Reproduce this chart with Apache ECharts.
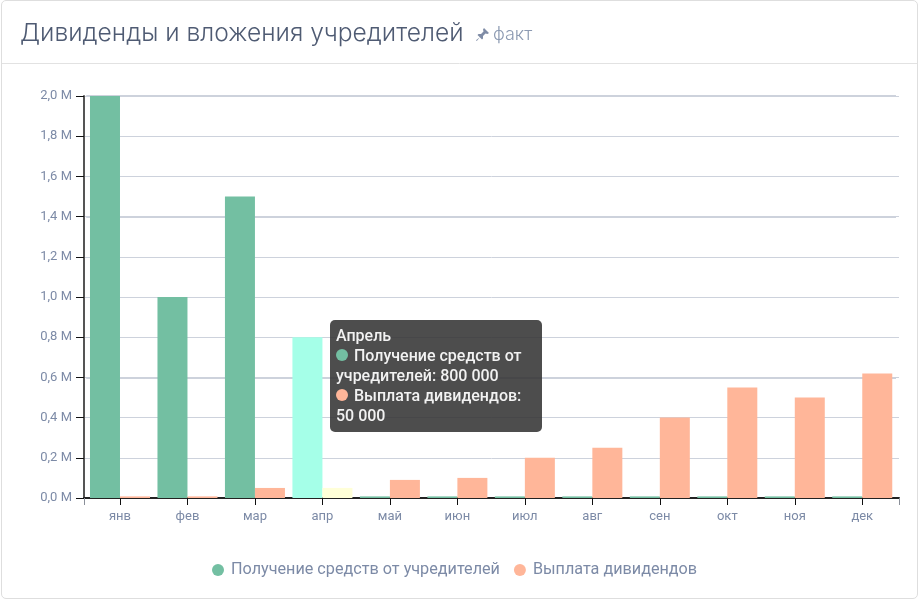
<!DOCTYPE html>
<html>
<head>
<meta charset="utf-8">
<script src="https://cdn.jsdelivr.net/npm/echarts@6/dist/echarts.min.js"></script>
<style>
html, body { margin: 0; padding: 0; background: #fff; }
#main { position: absolute; left: 0; top: 0; width: 920px; height: 600px; }
#card { position: absolute; left: 1px; top: 0; width: 915px; height: 597px; border: 1px solid #dedede; border-radius: 5px; box-sizing: content-box; }
</style>
</head>
<body>
<div id="card"></div>
<div id="main"></div>
<script>
var months = ['янв', 'фев', 'мар', 'апр', 'май', 'июн', 'июл', 'авг', 'сен', 'окт', 'ноя', 'дек'];
var monthsFull = ['Январь', 'Февраль', 'Март', 'Апрель', 'Май', 'Июнь', 'Июль', 'Август', 'Сентябрь', 'Октябрь', 'Ноябрь', 'Декабрь'];
var founderIn = [2000000, 1000000, 1500000, 800000, 8000, 8000, 8000, 8000, 8000, 8000, 8000, 8000];
var dividends = [8000, 8000, 50000, 50000, 90000, 100000, 200000, 250000, 400000, 550000, 500000, 620000];
var nameIn = 'Получение средств от учредителей';
var nameOut = 'Выплата дивидендов';
var hoverIndex = 3;

var textColor = '#7c8aa6';
var gridColor = '#cdd2dc';
var green = '#73bfa2', orange = '#ffb699';

function fmt(v) {
	return String(v).replace(/\B(?=(\d{3})+$)/g, '\u00a0');
}
function dot(c) {
	return '<span style="display:inline-block;width:12px;height:12px;border-radius:50%;margin-right:6px;background:' + c + '"></span>';
}
// подсвеченный столбец - как при наведении
function barData(arr, hoverColor) {
	return arr.map(function (v, i) {
		return i === hoverIndex ? { value: v, itemStyle: { color: hoverColor } } : v;
	});
}

var myChart = echarts.init(document.getElementById('main'));
myChart.setOption({
	animation: false,
	color: [green, orange],
	title: [
		{ text: 'Дивиденды и вложения учредителей', left: 15, top: 16, textStyle: { fontFamily: 'Inter', fontSize: 24.6, fontWeight: 300, color: '#4f5b73' } },
		{ text: 'факт', left: 488, top: 21, textStyle: { fontFamily: 'Inter', fontSize: 18, fontWeight: 300, color: '#8c9ab2' } }
	],
	graphic: [
		{ type: 'line', shape: { x1: 2, y1: 63.5, x2: 917, y2: 63.5 }, style: { stroke: '#e2e2e2', lineWidth: 1 } },
		{
			type: 'polygon', x: 476, y: 28,
			shape: { points: [[8, 0], [13, 5], [11.5, 6], [9.5, 5.5], [7, 8], [7, 10.5], [6, 11.5], [3.8, 9.2], [0.8, 13], [0, 12.2], [3.8, 9.2], [1.5, 7], [2.5, 6], [5, 6], [7.5, 3.5], [7, 1.5]] },
			style: { fill: '#7f8ca6' }
		}
	],
	legend: {
		data: [nameIn, nameOut],
		left: 207,
		top: 557,
		icon: 'circle',
		itemWidth: 12,
		itemHeight: 12,
		itemGap: 14,
		textStyle: { fontFamily: 'Roboto', fontSize: 16.2, color: textColor, padding: [0, 0, 0, 2] }
	},
	tooltip: {
		trigger: 'axis',
		alwaysShowContent: true,
		transitionDuration: 0,
		axisPointer: { type: 'none' },
		backgroundColor: 'rgba(50,50,50,0.87)',
		borderWidth: 0,
		padding: [6, 6],
		extraCssText: 'border-radius:5px;width:212px;white-space:normal;box-shadow:none;box-sizing:border-box;',
		textStyle: { fontFamily: 'Roboto', fontSize: 16, color: '#fff', lineHeight: 20 },
		position: function () { return [330, 320]; },
		formatter: function (params) {
			var i = params[0].dataIndex;
			return '<div style="line-height:20px;font-weight:500;color:#f2f2f2">' + monthsFull[i] + '<br>' +
				dot(green) + nameIn + ': ' + fmt(founderIn[i]) + '<br>' +
				dot(orange) + nameOut + ': ' + fmt(dividends[i]) + '</div>';
		}
	},
	grid: [
		{ left: 84, right: 21, top: 96, height: 402 },
		{ left: 86.25, right: 24, top: 96, height: 402 }
	],
	xAxis: [
		{
			type: 'value', gridIndex: 0, min: 0, max: 1, interval: 1,
			axisLine: { lineStyle: { color: '#222', width: 2 } },
			axisTick: { show: true, length: 7, lineStyle: { color: '#8a8f99' } },
			axisLabel: { show: false },
			splitLine: { show: false }
		},
		{
			type: 'category', gridIndex: 1, data: months,
			axisLine: { show: false },
			axisTick: { show: true, alignWithLabel: true, length: 7, lineStyle: { color: '#111', width: 1 } },
			axisLabel: { fontFamily: 'Roboto', fontSize: 13, color: textColor, margin: 12 }
		}
	],
	yAxis: [
		{
			type: 'value', gridIndex: 0, min: 0, max: 2000000, interval: 200000,
			axisLine: { show: true, lineStyle: { color: '#555', width: 2 } },
			axisTick: { show: true, length: 8, lineStyle: { color: '#111', width: 1 } },
			axisLabel: {
				fontFamily: 'Roboto', fontSize: 13, color: textColor, margin: 12, padding: [4, 0, 0, 0],
				formatter: function (v) { return (v / 1000000).toFixed(1).replace('.', ',') + ' М'; }
			},
			splitLine: { show: true, lineStyle: { color: gridColor, width: 1 } }
		},
		{
			// вторая ось: те же деления, несколько линий сетки толще
			type: 'value', gridIndex: 1, min: 0, max: 2000000, interval: 200000,
			axisLine: { show: false },
			axisTick: { show: false },
			axisLabel: { show: false },
			splitLine: {
				show: true,
				lineStyle: {
					width: 2,
					color: ['transparent', 'transparent', 'transparent', gridColor, 'transparent', 'transparent', 'transparent', gridColor, 'transparent', 'transparent', gridColor]
				}
			}
		}
	],
	series: [
		{
			name: nameIn, type: 'bar', xAxisIndex: 1, yAxisIndex: 1,
			barWidth: 30, barGap: 0,
			emphasis: { disabled: true },
			data: barData(founderIn, '#a5ffe8')
		},
		{
			name: nameOut, type: 'bar', xAxisIndex: 1, yAxisIndex: 1,
			barWidth: 30, barGap: 0,
			emphasis: { disabled: true },
			data: barData(dividends, '#ffffd8')
		}
	]
});
myChart.dispatchAction({ type: 'showTip', seriesIndex: 0, dataIndex: hoverIndex });
</script>
</body>
</html>
